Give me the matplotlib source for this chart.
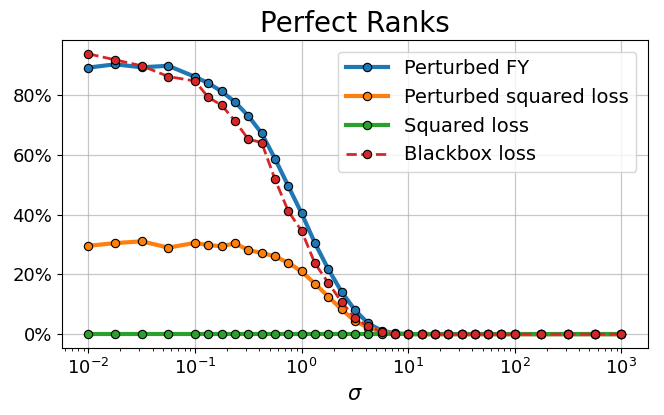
import numpy as np
import matplotlib
matplotlib.use("Agg")
import matplotlib.pyplot as plt
from matplotlib.ticker import PercentFormatter

# sigma grid: quarter decades to 1e-1, eighth decades to 1e2, quarter decades to 1e3
log_sigma = [-2, -1.75, -1.5, -1.25,
             -1, -0.875, -0.75, -0.625, -0.5, -0.375, -0.25, -0.125,
             0, 0.125, 0.25, 0.375, 0.5, 0.625, 0.75, 0.875,
             1, 1.125, 1.25, 1.375, 1.5, 1.625, 1.75, 1.875,
             2, 2.25, 2.5, 2.75, 3]
sigma = [10 ** v for v in log_sigma]

perturbed_fy = [89.3, 90.4, 89.4, 89.9, 86.2, 84.1, 81.3, 77.8, 73.1, 67.3, 58.8, 49.6,
                40.5, 30.5, 21.8, 14.2, 8.1, 3.6, 1.2, 0.3,
                0, 0, 0, 0, 0, 0, 0, 0, 0, 0, 0, 0, 0]
perturbed_sq = [29.6, 30.5, 31.1, 29.0, 30.6, 29.8, 29.5, 30.4, 28.2, 27.2, 26.1, 23.9,
                21.0, 16.9, 12.6, 8.3, 4.4, 2.2, 0.8, 0.2,
                0, 0, 0, 0, 0, 0, 0, 0, 0, 0, 0, 0, 0]
squared = [0] * len(sigma)
blackbox = [93.9, 91.9, 89.9, 86.3, 84.8, 79.3, 76.7, 71.4, 65.3, 64.2, 51.9, 41.2,
            34.6, 23.7, 17.2, 10.8, 5.4, 2.6, 0.8, 0.2,
            0, 0, 0, 0, 0, 0, 0, 0, 0, 0, 0, 0, 0]

fig = plt.figure(figsize=(6.64, 4.15), dpi=100)
ax = fig.add_axes([0.093, 0.161, 0.883, 0.743])

mk = dict(marker="o", markersize=6, markeredgecolor="black", markeredgewidth=0.8)
ax.plot(sigma, perturbed_fy, color="tab:blue", lw=3, label="Perturbed FY", **mk)
ax.plot(sigma, perturbed_sq, color="tab:orange", lw=3, label="Perturbed squared loss", **mk)
ax.plot(sigma, squared, color="tab:green", lw=3, label="Squared loss", **mk)
ax.plot(sigma, blackbox, color="tab:red", lw=2, ls="--", label="Blackbox loss", **mk)

ax.set_xscale("log")
ax.yaxis.set_major_formatter(PercentFormatter(100, decimals=0))
ax.grid(True, color="#b0b0b0", lw=0.9, alpha=0.7)
ax.tick_params(labelsize=13)
ax.set_xlabel(r"$\sigma$", fontsize=15)
ax.set_title("Perfect Ranks", fontsize=20)
ax.legend(loc="upper right", fontsize=14, handlelength=2.2, borderaxespad=0.6)

fig.savefig("out.png", dpi=100)
